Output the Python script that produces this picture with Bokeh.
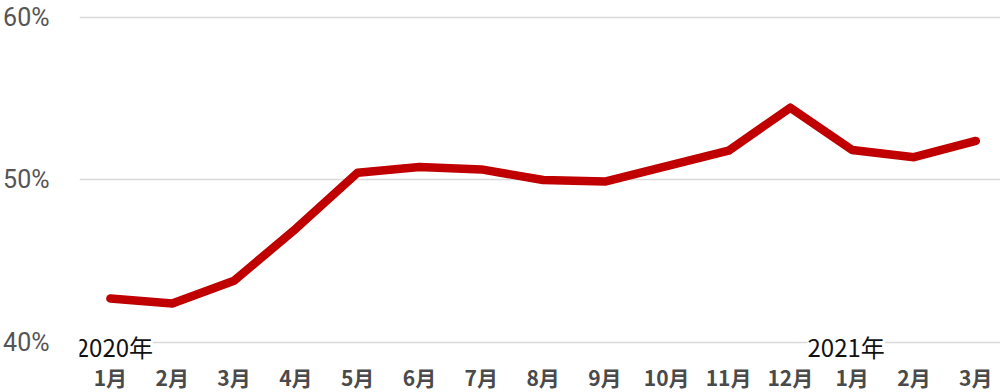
from bokeh.plotting import figure
from bokeh.models import FixedTicker, PrintfTickFormatter, Label, LabelSet, Range1d, ColumnDataSource
from bokeh.core.properties import value
from bokeh.embed import file_html
from bokeh.resources import INLINE

# Monthly share (%) from January 2020 to March 2021
months = ["1月", "2月", "3月", "4月", "5月", "6月", "7月", "8月", "9月",
          "10月", "11月", "12月", "1月", "2月", "3月"]
share = [42.7, 42.4, 43.8, 47.0, 50.45, 50.8, 50.65, 50.0, 49.9,
         50.85, 51.8, 54.45, 51.85, 51.4, 52.4]
year_labels = ["2020年", "2021年"]
year_start_index = [0, 12]
y_ticks = [40, 50, 60]

x = list(range(len(months)))

p = figure(width=1000, height=392, output_backend="svg", toolbar_location=None,
           x_range=Range1d(-0.5, 14.4), y_range=Range1d(36.92, 60.615),
           min_border_left=79, min_border_right=0, min_border_top=7,
           min_border_bottom=0)
p.outline_line_color = None
p.background_fill_color = "white"
p.border_fill_color = "white"

p.line(x, share, line_color="#c00000", line_width=8.5,
       line_join="round", line_cap="round")

# month labels sit below the bottom gridline
p.xaxis.visible = False
month_src = ColumnDataSource(dict(x=x, y=[y_ticks[0]] * len(x), text=months))
p.add_layout(LabelSet(x="x", y="y", text="text", source=month_src,
                      text_align="center", text_baseline="middle", y_offset=-35,
                      text_font=value("Noto Sans CJK JP"), text_font_size="21px",
                      text_font_style="bold", text_color="#4a4a4a"))

p.yaxis.ticker = FixedTicker(ticks=y_ticks)
p.yaxis.formatter = PrintfTickFormatter(format="%d%%")
p.yaxis.axis_line_color = None
p.yaxis.major_tick_line_color = None
p.yaxis.minor_tick_line_color = None
p.yaxis.major_label_text_font = "Roboto"
p.yaxis.major_label_text_font_size = "25px"
p.yaxis.major_label_text_color = "#555555"
p.yaxis.major_label_standoff = 24

p.xgrid.grid_line_color = None
p.ygrid.ticker = FixedTicker(ticks=y_ticks)
p.ygrid.grid_line_color = "#d9d9d9"
p.ygrid.grid_line_width = 1.5

# year markers under the first month of each year
for label, idx, dx in zip(year_labels, year_start_index, [4, -6]):
    p.add_layout(Label(x=idx, y=y_ticks[0], text=label, text_align="center",
                       text_baseline="middle", y_offset=-4, x_offset=dx,
                       text_font="Noto Sans CJK JP", text_font_size="24px",
                       text_color="#111111",
                       background_fill_color="white"))

open("out.html", "w").write(file_html(p, INLINE))
